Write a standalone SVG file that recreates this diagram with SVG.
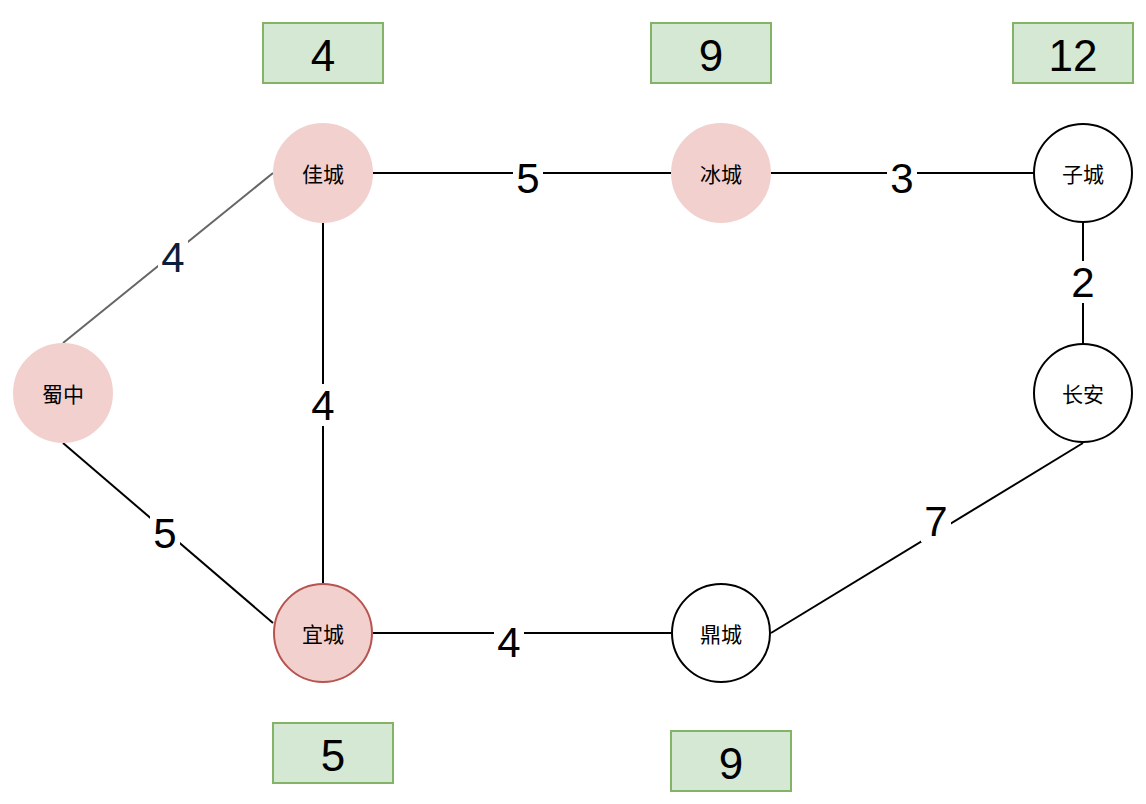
<svg xmlns="http://www.w3.org/2000/svg" width="1146" height="804" viewBox="0 0 1146 804">
<style>
.e{stroke:#000;stroke-width:2;fill:none}
.lb{fill:#fff}
.lt{font-family:"Liberation Sans",Arial,sans-serif;font-size:42px;text-anchor:middle;dominant-baseline:central;fill:#000}
.n{stroke-width:2}
.hot{fill:#f2d0ce;stroke:#f2d0ce}
.cold{fill:#fff;stroke:#000}
.nt{font-family:"Noto Sans CJK SC","Noto Sans",sans-serif;font-size:21px;text-anchor:middle;dominant-baseline:central;fill:#000}
.bx{fill:#d5e8d4;stroke:#82b366;stroke-width:2}
.bt{font-family:"Liberation Sans",Arial,sans-serif;font-size:44px;text-anchor:middle;dominant-baseline:central;fill:#000}
</style>
<rect width="1146" height="804" fill="#fff"/>
<g id="connectors">
<line class="e" x1="63" y1="343" x2="273" y2="173" style="stroke:#666"/>
<line class="e" x1="323" y1="223" x2="323" y2="583"/>
<line class="e" x1="373" y1="173" x2="671" y2="173"/>
<line class="e" x1="771" y1="173" x2="1033" y2="173"/>
<line class="e" x1="1083" y1="223" x2="1083" y2="343"/>
<line class="e" x1="1083" y1="443" x2="771" y2="633"/>
<line class="e" x1="373" y1="633" x2="671" y2="633"/>
<line class="e" x1="63" y1="443" x2="273" y2="623"/>
<rect class="lb" x="158" y="236" width="30" height="42"/>
<text class="lt" x="173" y="257" style="fill:#0a1e3c">4</text>
<rect class="lb" x="308" y="384" width="30" height="42"/>
<text class="lt" x="323" y="405">4</text>
<rect class="lb" x="513" y="157" width="30" height="42"/>
<text class="lt" x="528" y="178">5</text>
<rect class="lb" x="887" y="157" width="30" height="42"/>
<text class="lt" x="902" y="178">3</text>
<rect class="lb" x="1068" y="261" width="30" height="42"/>
<text class="lt" x="1083" y="282">2</text>
<rect class="lb" x="921" y="500" width="30" height="42"/>
<text class="lt" x="936" y="521">7</text>
<rect class="lb" x="494" y="621" width="30" height="42"/>
<text class="lt" x="509" y="642">4</text>
<rect class="lb" x="150" y="512" width="30" height="42"/>
<text class="lt" x="165" y="533">5</text>
</g>
<g id="n-jiacheng"><circle class="n hot" cx="323" cy="173" r="49"/><text class="nt" x="323" y="173">佳城</text></g>
<g id="n-bingcheng"><circle class="n hot" cx="721" cy="173" r="49"/><text class="nt" x="721" y="173">冰城</text></g>
<g id="n-zicheng"><circle class="n cold" cx="1083" cy="173" r="49"/><text class="nt" x="1083" y="173">子城</text></g>
<g id="n-changan"><circle class="n cold" cx="1083" cy="393" r="49"/><text class="nt" x="1083" y="393">长安</text></g>
<g id="n-shuzhong"><circle class="n hot" cx="63" cy="393" r="49"/><text class="nt" x="63" y="393">蜀中</text></g>
<g id="n-yicheng"><circle class="n hot" cx="323" cy="633" r="49" style="stroke:#b85450"/><text class="nt" x="323" y="633">宜城</text></g>
<g id="n-dingcheng"><circle class="n cold" cx="721" cy="633" r="49"/><text class="nt" x="721" y="633">鼎城</text></g>
<g id="b-jia"><rect class="bx" x="263" y="23" width="120" height="60"/><text class="bt" x="323" y="55">4</text></g>
<g id="b-bing"><rect class="bx" x="651" y="23" width="120" height="60"/><text class="bt" x="711" y="55">9</text></g>
<g id="b-zi"><rect class="bx" x="1013" y="23" width="120" height="60"/><text class="bt" x="1073" y="55">12</text></g>
<g id="b-yi"><rect class="bx" x="273" y="723" width="120" height="60"/><text class="bt" x="333" y="755">5</text></g>
<g id="b-ding"><rect class="bx" x="671" y="731" width="120" height="60"/><text class="bt" x="731" y="763">9</text></g>
</svg>
